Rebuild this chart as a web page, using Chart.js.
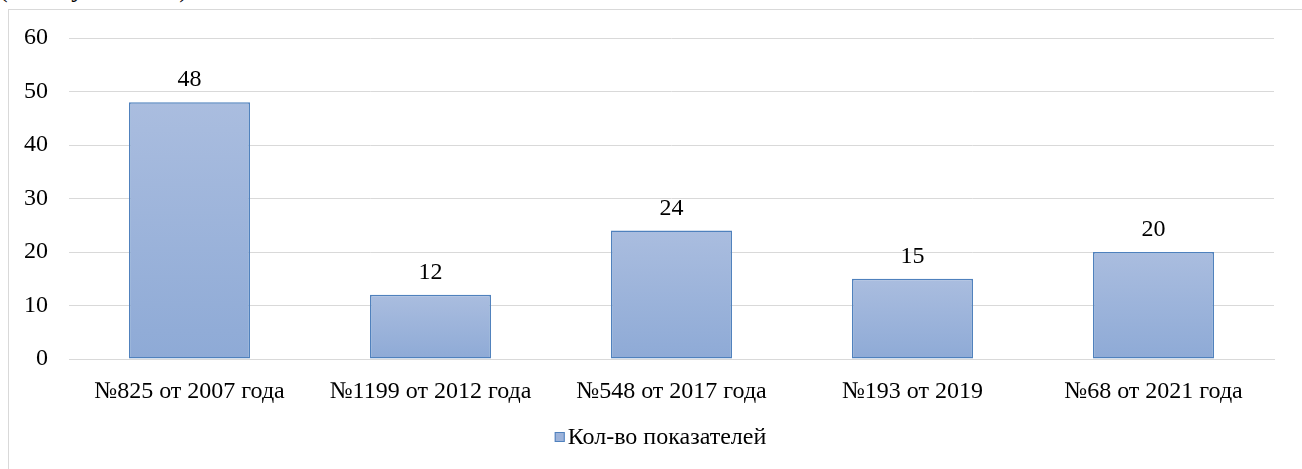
<!DOCTYPE html>
<html>
<head>
<meta charset="utf-8">
<script src="https://cdn.jsdelivr.net/npm/chart.js@4.4.1/dist/chart.umd.min.js"></script>
<style>
  html,body{margin:0;padding:0;background:#fff;overflow:hidden;width:1302px;height:469px;}
  #caption{position:absolute;left:-1px;top:-26px;font:26px "Liberation Serif",serif;letter-spacing:6px;color:#000;white-space:nowrap;}
  #frame{position:absolute;left:8px;top:9px;width:1400px;height:500px;border:1px solid #d9d9d9;box-sizing:border-box;}
  #wrap{position:absolute;left:0;top:0;width:1302px;height:469px;}
</style>
</head>
<body>
<div id="caption">(Рисунок 1).</div>
<div id="frame"></div>
<div id="wrap"><canvas id="chart" width="1302" height="469"></canvas></div>
<script>
/* data */
const categories = ['№825 от 2007 года','№1199 от 2012 года','№548 от 2017 года','№193 от 2019','№68 от 2021 года'];
const counts = [48, 12, 24, 15, 20];
const seriesName = 'Кол-во показателей';
const yTicks = [0, 10, 20, 30, 40, 50, 60];

const FONT = {family:'"Liberation Serif", "Times New Roman", serif', size:24};
const FONT_CSS = FONT.size + 'px ' + FONT.family;

/* per-bar gradient like excel */
function barFill(ctx){
  const chart = ctx.chart;
  if(ctx.type !== 'data' || !chart.chartArea) return '#9db3da';
  const y = chart.scales.y;
  const top = y.getPixelForValue(ctx.raw);
  const bot = y.getPixelForValue(0);
  const g = chart.ctx.createLinearGradient(0, top, 0, bot);
  g.addColorStop(0, '#aabddf');
  g.addColorStop(1, '#8eaad6');
  return g;
}

/* value labels above the bars */
const valueLabels = {
  id:'valueLabels',
  afterDatasetsDraw(chart){
    const c = chart.ctx;
    const meta = chart.getDatasetMeta(0);
    c.save();
    c.font = FONT_CSS;
    c.fillStyle = '#000';
    c.textAlign = 'center';
    c.textBaseline = 'middle';
    meta.data.forEach((bar,i)=>{
      c.fillText(String(counts[i]), bar.x, bar.y - 22);
    });
    c.restore();
  }
};

/* excel style legend: small square, tight gap */
const excelLegend = {
  id:'excelLegend',
  afterDraw(chart){
    const c = chart.ctx;
    const a = chart.chartArea;
    c.save();
    c.font = FONT_CSS;
    const tw = c.measureText(seriesName).width;
    const box = 10, gap = 3;
    const cx = (a.left + a.right) / 2 - 11;
    const x0 = cx - (box + gap + tw) / 2;
    const cy = a.bottom + 78;
    c.fillStyle = '#9db3da';
    c.fillRect(x0, cy - box/2, box, box);
    c.strokeStyle = '#4f81bd';
    c.lineWidth = 1;
    c.strokeRect(x0 + 0.5, cy - box/2 + 0.5, box - 1, box - 1);
    c.fillStyle = '#000';
    c.textBaseline = 'middle';
    c.fillText(seriesName, x0 + box + gap, cy + 1);
    c.restore();
  }
};

new Chart(document.getElementById('chart'), {
  type:'bar',
  data:{
    labels:categories,
    datasets:[{
      label:seriesName,
      data:counts,
      backgroundColor:barFill,
      borderColor:'#4f81bd',
      borderWidth:1.5,
      borderSkipped:false,
      barPercentage:1,
      categoryPercentage:0.502
    }]
  },
  options:{
    responsive:false,
    animation:false,
    layout:{padding:{top:38, right:28, bottom:54, left:0}},
    plugins:{
      tooltip:{enabled:false},
      legend:{display:false}
    },
    scales:{
      x:{
        grid:{display:false, drawTicks:false},
        border:{display:true, color:'#d9d9d9', width:1},
        ticks:{color:'#000', font:FONT, padding:18, maxRotation:0, autoSkip:false},
        afterFit(s){ s.height = 56; }
      },
      y:{
        min:0, max:60,
        afterBuildTicks(s){ s.ticks = yTicks.map(v=>({value:v})); },
        grid:{color:'#d9d9d9', lineWidth:1, drawTicks:false},
        border:{display:false},
        ticks:{color:'#000', font:FONT, padding:21},
        afterFit(s){ s.width = 69; }
      }
    }
  },
  plugins:[valueLabels, excelLegend]
});
</script>
</body>
</html>
